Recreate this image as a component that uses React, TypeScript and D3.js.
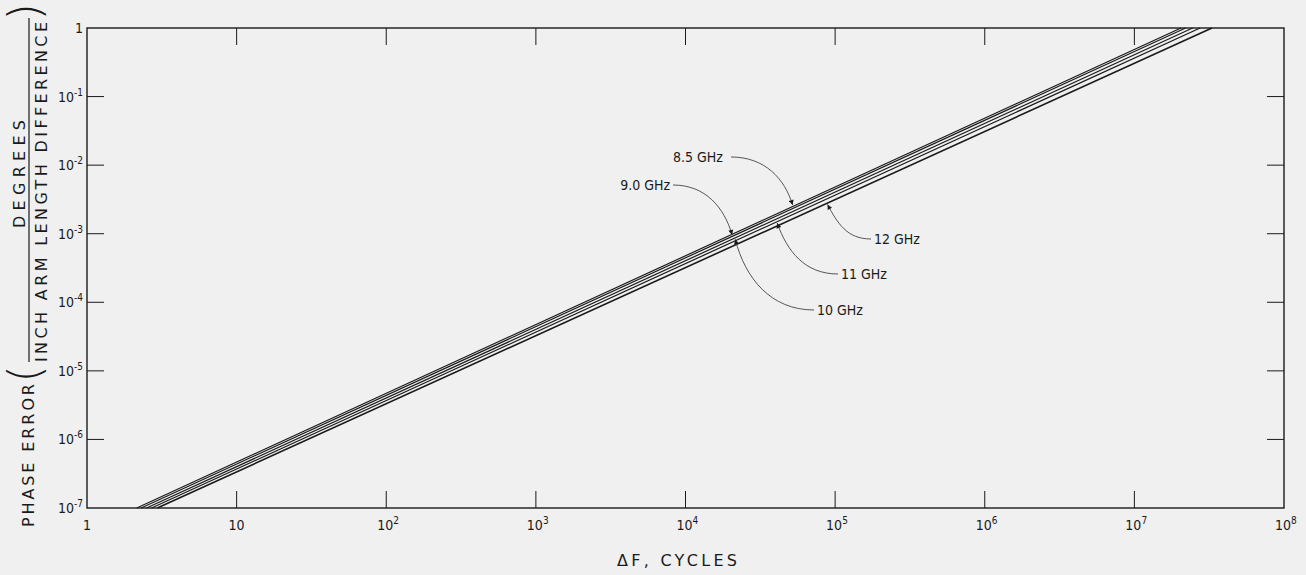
import { useEffect, useRef } from "react";
import * as d3 from "d3";

// ΔF (cycles) where each curve leaves the 10^-7 floor and where it reaches 1
const series = ["8.5 GHz", "9.0 GHz", "10 GHz", "11 GHz", "12 GHz"];
const dfAtFloor = [2.15, 2.3, 2.5, 2.7, 2.95];
const dfAtTop = [2.05e7, 2.2e7, 2.45e7, 2.75e7, 3.3e7];

// where each label's arrow touches its curve
const arrowDF = [5.2e4, 2.05e4, 2.15e4, 4.1e4, 8.9e4];

const xTicks = [1, 10, 1e2, 1e3, 1e4, 1e5, 1e6, 1e7, 1e8];
const xExp = ["", "", "2", "3", "4", "5", "6", "7", "8"];
const yTicks = [1, 1e-1, 1e-2, 1e-3, 1e-4, 1e-5, 1e-6, 1e-7];
const yExp = ["", "-1", "-2", "-3", "-4", "-5", "-6", "-7"];

const W = 1306, H = 575;
const INK = "#1a1a1a";
const FONT = "'DejaVu Sans Condensed', 'DejaVu Sans', sans-serif";

export default function App() {
  const svgRef = useRef<SVGSVGElement>(null);

  useEffect(() => {
    const svg = d3.select(svgRef.current);
    svg.selectAll("*").remove();

    const left = 87, right = 1284, top = 28, bottom = 508;
    const x = d3.scaleLog().domain([1, 1e8]).range([left, right]);
    const y = d3.scaleLog().domain([1e-7, 1]).range([bottom, top]);

    svg.append("rect").attr("width", W).attr("height", H).attr("fill", "#f0f0f0");

    const defs = svg.append("defs");
    defs.append("marker")
      .attr("id", "arr").attr("viewBox", "0 0 10 10")
      .attr("refX", 10).attr("refY", 5)
      .attr("markerWidth", 7).attr("markerHeight", 5)
      .attr("markerUnits", "userSpaceOnUse")
      .attr("orient", "auto-start-reverse")
      .append("path").attr("d", "M0,0L10,5L0,10z").attr("fill", INK);

    // frame
    svg.append("rect")
      .attr("x", left).attr("y", top)
      .attr("width", right - left).attr("height", bottom - top)
      .attr("fill", "none").attr("stroke", INK).attr("stroke-width", 1.4);

    // inward ticks on all four sides
    const tl = 17;
    const inner = xTicks.slice(1, -1);
    svg.selectAll(".xt").data(inner).enter().append("path")
      .attr("d", d => `M${x(d)},${bottom}V${bottom - tl}M${x(d)},${top}V${top + tl}`)
      .attr("stroke", INK).attr("stroke-width", 1);
    const innerY = yTicks.slice(1, -1);
    svg.selectAll(".yt").data(innerY).enter().append("path")
      .attr("d", d => `M${left},${y(d)}H${left + tl}M${right},${y(d)}H${right - tl}`)
      .attr("stroke", INK).attr("stroke-width", 1);

    // x tick labels
    const xl = svg.append("g").attr("font-family", FONT).attr("fill", INK);
    xTicks.forEach((t, i) => {
      const px = x(t);
      if (!xExp[i]) {
        xl.append("text").attr("x", px).attr("y", 530).attr("text-anchor", "middle")
          .attr("font-size", 14).text(t === 1 ? "1" : "10");
      } else {
        xl.append("text").attr("x", px - 1).attr("y", 530).attr("text-anchor", "middle")
          .attr("font-size", 14).text("10");
        xl.append("text").attr("x", px + 7).attr("y", 524)
          .attr("font-size", 10).text(xExp[i]);
      }
    });

    // y tick labels
    yTicks.forEach((t, i) => {
      const py = y(t);
      const txt = xl.append("text").attr("x", 83).attr("y", py + 5)
        .attr("text-anchor", "end").attr("font-size", 14);
      if (!yExp[i]) {
        txt.text("1");
      } else {
        txt.append("tspan").text("10");
        txt.append("tspan").attr("dy", -6).attr("font-size", 10).text(yExp[i]);
      }
    });

    // curves
    const line = d3.line<[number, number]>().x(d => x(d[0])).y(d => y(d[1]));
    series.forEach((_, i) => {
      svg.append("path")
        .attr("d", line([[dfAtFloor[i], 1e-7], [dfAtTop[i], 1]]))
        .attr("fill", "none").attr("stroke", INK)
        .attr("stroke-width", i === series.length - 1 ? 1.6 : 1.2);
    });

    // value of curve i at ΔF (straight on log-log)
    const curveY = (i: number, df: number) => {
      const t = (Math.log10(df) - Math.log10(dfAtFloor[i])) /
        (Math.log10(dfAtTop[i]) - Math.log10(dfAtFloor[i]));
      return Math.pow(10, -7 + 7 * t);
    };

    // labels with leader curves
    const labelPos = [
      { tx: 673, ty: 162, anchor: "start", sx: 731, sy: 157, above: true },
      { tx: 670, ty: 190, anchor: "end", sx: 673, sy: 185, above: true },
      { tx: 817, ty: 315, anchor: "start", sx: 814, sy: 310, above: false },
      { tx: 841, ty: 279, anchor: "start", sx: 838, sy: 274, above: false },
      { tx: 874, ty: 244, anchor: "start", sx: 871, sy: 239, above: false },
    ];
    const ann = svg.append("g");
    series.forEach((name, i) => {
      const p = labelPos[i];
      const ax = x(arrowDF[i]);
      const ay = y(curveY(i, arrowDF[i])) + (p.above ? -1.5 : 1.5);
      let d: string;
      if (p.above) {
        d = `M${p.sx},${p.sy}C${p.sx + (ax - p.sx) * 0.55},${p.sy} ${ax - 8},${p.sy + (ay - p.sy) * 0.45} ${ax},${ay}`;
        ann.append("path").attr("d", d).attr("marker-end", "url(#arr)")
          .attr("fill", "none").attr("stroke", "#444").attr("stroke-width", 0.9);
      } else {
        d = `M${ax},${ay}C${ax + 10},${ay + (p.sy - ay) * 0.55} ${ax + (p.sx - ax) * 0.45},${p.sy} ${p.sx},${p.sy}`;
        ann.append("path").attr("d", d).attr("marker-start", "url(#arr)")
          .attr("fill", "none").attr("stroke", "#444").attr("stroke-width", 0.9);
      }
      ann.append("text").attr("x", p.tx).attr("y", p.ty)
        .attr("text-anchor", p.anchor).attr("font-family", FONT)
        .attr("font-size", 14).attr("fill", INK).text(name);
    });

    // x-axis title
    svg.append("text").attr("x", 617).attr("y", 566)
      .attr("font-family", "'DejaVu Sans', sans-serif").attr("font-size", 16)
      .attr("fill", INK).attr("textLength", 120).attr("lengthAdjust", "spacing")
      .text("ΔF, CYCLES");

    // y-axis title, rotated
    const yt = svg.append("g").attr("transform", "rotate(-90)")
      .attr("font-family", "'DejaVu Sans', sans-serif").attr("fill", INK);
    yt.append("text").attr("x", -527).attr("y", 34).attr("font-size", 16)
      .attr("textLength", 143).attr("lengthAdjust", "spacing").text("PHASE ERROR");
    yt.append("text").attr("x", -374).attr("y", 40).attr("font-size", 44)
      .attr("font-weight", 200).attr("text-anchor", "middle").text("(");
    yt.append("text").attr("x", -228).attr("y", 25).attr("font-size", 16)
      .attr("textLength", 108).attr("lengthAdjust", "spacing").text("DEGREES");
    yt.append("text").attr("x", -362).attr("y", 47).attr("font-size", 16)
      .attr("textLength", 340).attr("lengthAdjust", "spacing").text("INCH ARM LENGTH DIFFERENCE");
    yt.append("text").attr("x", -12).attr("y", 40).attr("font-size", 44)
      .attr("font-weight", 200).attr("text-anchor", "middle").text(")");
    svg.append("line").attr("x1", 29).attr("x2", 29).attr("y1", 18).attr("y2", 362)
      .attr("stroke", INK).attr("stroke-width", 1.2);
  }, []);

  return (
    <svg ref={svgRef} width={W} height={H}
      style={{ position: "absolute", left: 0, top: 0, display: "block" }} />
  );
}
